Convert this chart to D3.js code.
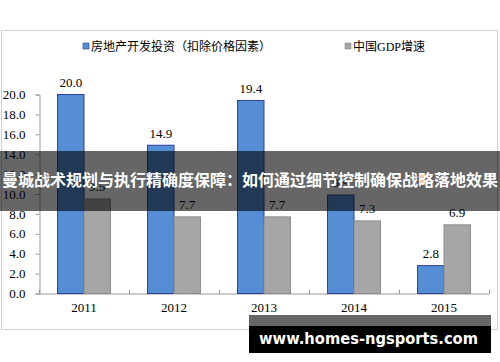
<!DOCTYPE html>
<html>
<head>
<meta charset="utf-8">
<script src="https://cdn.jsdelivr.net/npm/d3@7"></script>
<style>
  body { margin: 0; background: #fff; }
  svg { display: block; }
</style>
</head>
<body>
<div id="chart-area"></div>
<script>
// data
var years = ["2011", "2012", "2013", "2014", "2015"];
var investment = [20.0, 14.9, 19.4, 9.9, 2.8];
var gdpGrowth = [9.5, 7.7, 7.7, 7.3, 6.9];
var yTicks = [0, 2, 4, 6, 8, 10, 12, 14, 16, 18, 20];
var seriesNames = ["房地产开发投资（扣除价格因素）", "中国GDP增速"];
var bannerText = "曼城战术规划与执行精确度保障：如何通过细节控制确保战略落地效果";
var watermark = "www.homes-ngsports.com";

var W = 500, H = 362;
var serif = "'Liberation Serif', 'Times New Roman', serif";
var cjk = "'Noto Sans CJK SC', sans-serif";

var svg = d3.select("#chart-area").append("svg")
    .attr("width", W)
    .attr("height", H);

// outer frame
svg.append("rect")
    .attr("x", 1.5).attr("y", 30.5)
    .attr("width", 496).attr("height", 299)
    .attr("fill", "#fff")
    .attr("stroke", "#d0d0d0");

// scales
var x0 = d3.scaleBand().domain(years).range([39, 489]);
var x1 = d3.scaleBand().domain(["inv", "gdp"])
    .range([0, x0.bandwidth()]).paddingOuter(0.7);
var y = d3.scaleLinear().domain([0, 20]).range([293.5, 94.5]);

// y axis
var yAxis = svg.append("g")
    .attr("transform", "translate(39.5,0)")
    .call(d3.axisLeft(y).tickValues(yTicks).tickSize(4).tickPadding(10)
        .tickFormat(d3.format(".1f")));
yAxis.select(".domain").attr("stroke", "#9a9a9a");
yAxis.selectAll(".tick line").attr("stroke", "#9a9a9a");
yAxis.selectAll("text")
    .attr("font-family", serif).attr("font-size", "13px").attr("fill", "#000");

// x axis (inside tick marks at category borders)
var xg = svg.append("g");
xg.append("line")
    .attr("x1", 39).attr("x2", 489)
    .attr("y1", y(0) + 0.5).attr("y2", y(0) + 0.5)
    .attr("stroke", "#9a9a9a");
xg.selectAll(".xt")
    .data(years.concat(["end"]))
    .enter().append("line")
    .attr("x1", (d, i) => Math.round(39 + i * x0.step()) + 0.5)
    .attr("x2", (d, i) => Math.round(39 + i * x0.step()) + 0.5)
    .attr("y1", y(0) - 4).attr("y2", y(0) + 0.5)
    .attr("stroke", "#9a9a9a");
xg.selectAll(".xl")
    .data(years)
    .enter().append("text")
    .attr("x", d => x0(d) + x0.bandwidth() / 2)
    .attr("y", 312)
    .attr("text-anchor", "middle")
    .attr("font-family", serif).attr("font-size", "13px")
    .text(d => d);

// bars
var series = [
    { key: "inv", values: investment, fill: "#558ed5", stroke: "#2f3f9a" },
    { key: "gdp", values: gdpGrowth, fill: "#a6a6a6", stroke: "#8c8c8c" }
];
series.forEach(function(s) {
    svg.selectAll(".bar-" + s.key)
        .data(s.values)
        .enter().append("rect")
        .attr("x", (d, i) => x0(years[i]) + x1(s.key))
        .attr("y", d => y(d))
        .attr("width", x1.bandwidth())
        .attr("height", d => y(0) - y(d))
        .attr("fill", s.fill)
        .attr("stroke", s.stroke)
        .attr("stroke-width", 1);
    svg.selectAll(".lab-" + s.key)
        .data(s.values)
        .enter().append("text")
        .attr("x", (d, i) => x0(years[i]) + x1(s.key) + x1.bandwidth() / 2)
        .attr("y", d => y(d) - 7.5)
        .attr("text-anchor", "middle")
        .attr("font-family", serif).attr("font-size", "13px")
        .text(d => d.toFixed(1));
});

// legend
var legendX = [83, 345];
series.forEach(function(s, i) {
    svg.append("rect")
        .attr("x", legendX[i]).attr("y", 43)
        .attr("width", 6).attr("height", 6)
        .attr("fill", s.fill).attr("stroke", s.stroke).attr("stroke-width", 0.6);
    svg.append("text")
        .attr("x", legendX[i] + 8).attr("y", 51)
        .attr("font-family", i == 0 ? cjk : serif + ", " + cjk)
        .attr("font-size", "12px")
        .text(seriesNames[i]);
});

// dark title banner over the chart
svg.append("rect")
    .attr("x", 0).attr("y", 151)
    .attr("width", W).attr("height", 60)
    .attr("fill", "#000").attr("fill-opacity", 0.6);
svg.append("text")
    .attr("x", W / 2).attr("y", 186)
    .attr("text-anchor", "middle")
    .attr("font-family", cjk).attr("font-size", "16px").attr("font-weight", "bold")
    .attr("fill", "#fff")
    .text(bannerText);

// watermark box
svg.append("rect")
    .attr("x", 249).attr("y", 315)
    .attr("width", 242).attr("height", 11)
    .attr("fill", "#000").attr("fill-opacity", 0.6);
svg.append("rect")
    .attr("x", 249).attr("y", 326)
    .attr("width", 242).attr("height", 27)
    .attr("fill", "#000");
svg.append("text")
    .attr("x", 259).attr("y", 344)
    .attr("textLength", 219)
    .attr("lengthAdjust", "spacingAndGlyphs")
    .attr("font-family", "'DejaVu Sans', sans-serif")
    .attr("font-size", "16px").attr("font-weight", "bold")
    .attr("fill", "#fff")
    .text(watermark);
</script>
</body>
</html>
